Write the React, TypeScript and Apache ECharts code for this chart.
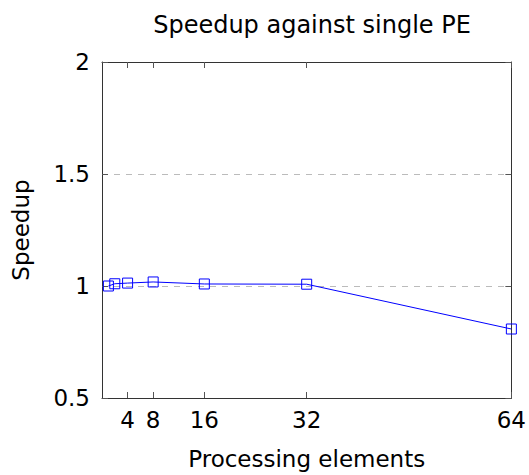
import React, { useEffect, useRef } from "react";
import * as echarts from "echarts";

const peCounts = [1, 2, 4, 8, 16, 32, 64];
const speedups = [1.0, 1.01, 1.013, 1.018, 1.009, 1.008, 0.808];
const xTickValues = [4, 8, 16, 32, 64];
const yTickValues = [0.5, 1, 1.5, 2];

const FONT = "DejaVu Sans";
const FS = 23;

export default function App() {
  const ref = useRef<HTMLDivElement>(null);
  useEffect(() => {
    if (!ref.current) return;
    const chart = echarts.init(ref.current, null, { renderer: "svg" });
    const axisLineStyle = { color: "#333", width: 1 };
    chart.setOption({
      animation: false,
      title: {
        text: "Speedup against single PE",
        left: 307,
        textAlign: "center",
        top: 8,
        textStyle: { fontFamily: FONT, fontSize: 24, fontWeight: "normal", color: "#000" },
      },
      grid: { left: 102, top: 62, width: 410, height: 336 },
      xAxis: [
        {
          type: "value",
          min: 0,
          max: 64,
          position: "bottom",
          name: "Processing elements",
          nameLocation: "middle",
          nameGap: 49,
          nameTextStyle: { fontFamily: FONT, fontSize: FS, color: "#000" },
          axisLine: { show: true, onZero: false, lineStyle: axisLineStyle },
          axisTick: { show: true, inside: true, length: 6, customValues: xTickValues, lineStyle: { color: "#555" } },
          axisLabel: { show: true, customValues: xTickValues, margin: 10, fontFamily: FONT, fontSize: FS, color: "#000" },
          splitLine: { show: false },
        },
        {
          type: "value",
          min: 0,
          max: 64,
          position: "top",
          axisLine: { show: true, onZero: false, lineStyle: axisLineStyle },
          axisTick: { show: true, inside: true, length: 6, customValues: xTickValues, lineStyle: { color: "#555" } },
          axisLabel: { show: false },
          splitLine: { show: false },
        },
      ],
      yAxis: [
        {
          type: "value",
          min: 0.5,
          max: 2,
          interval: 0.5,
          position: "left",
          name: "Speedup",
          nameLocation: "middle",
          nameGap: 70,
          nameRotate: 90,
          nameTextStyle: { fontFamily: FONT, fontSize: FS, color: "#000" },
          axisLine: { show: true, onZero: false, lineStyle: axisLineStyle },
          axisTick: { show: true, inside: true, length: 6, lineStyle: { color: "#555" } },
          axisLabel: {
            margin: 12,
            fontFamily: FONT,
            fontSize: FS,
            color: "#000",
            formatter: (v: number) => (yTickValues.includes(v) ? String(v) : ""),
          },
          splitLine: { show: true, lineStyle: { color: "#bbb", type: [6, 6], width: 1 } },
        },
        {
          type: "value",
          min: 0.5,
          max: 2,
          interval: 0.5,
          position: "right",
          axisLine: { show: true, onZero: false, lineStyle: axisLineStyle },
          axisTick: { show: true, inside: true, length: 6, lineStyle: { color: "#555" } },
          axisLabel: { show: false },
          splitLine: { show: false },
        },
      ],
      series: [
        {
          type: "line",
          xAxisIndex: 0,
          yAxisIndex: 0,
          data: peCounts.map((x, i) => [x, speedups[i]]),
          symbol: "rect",
          symbolSize: 10,
          showAllSymbol: true,
          lineStyle: { color: "#0000ff", width: 1 },
          itemStyle: { color: "rgba(0,0,0,0)", borderColor: "#0000ff", borderWidth: 1 },
          z: 5,
        },
      ],
    });
    return () => chart.dispose();
  }, []);
  return (
    <div
      ref={ref}
      style={{ position: "fixed", left: 0, top: 0, width: 529, height: 475, background: "#fff" }}
    />
  );
}
